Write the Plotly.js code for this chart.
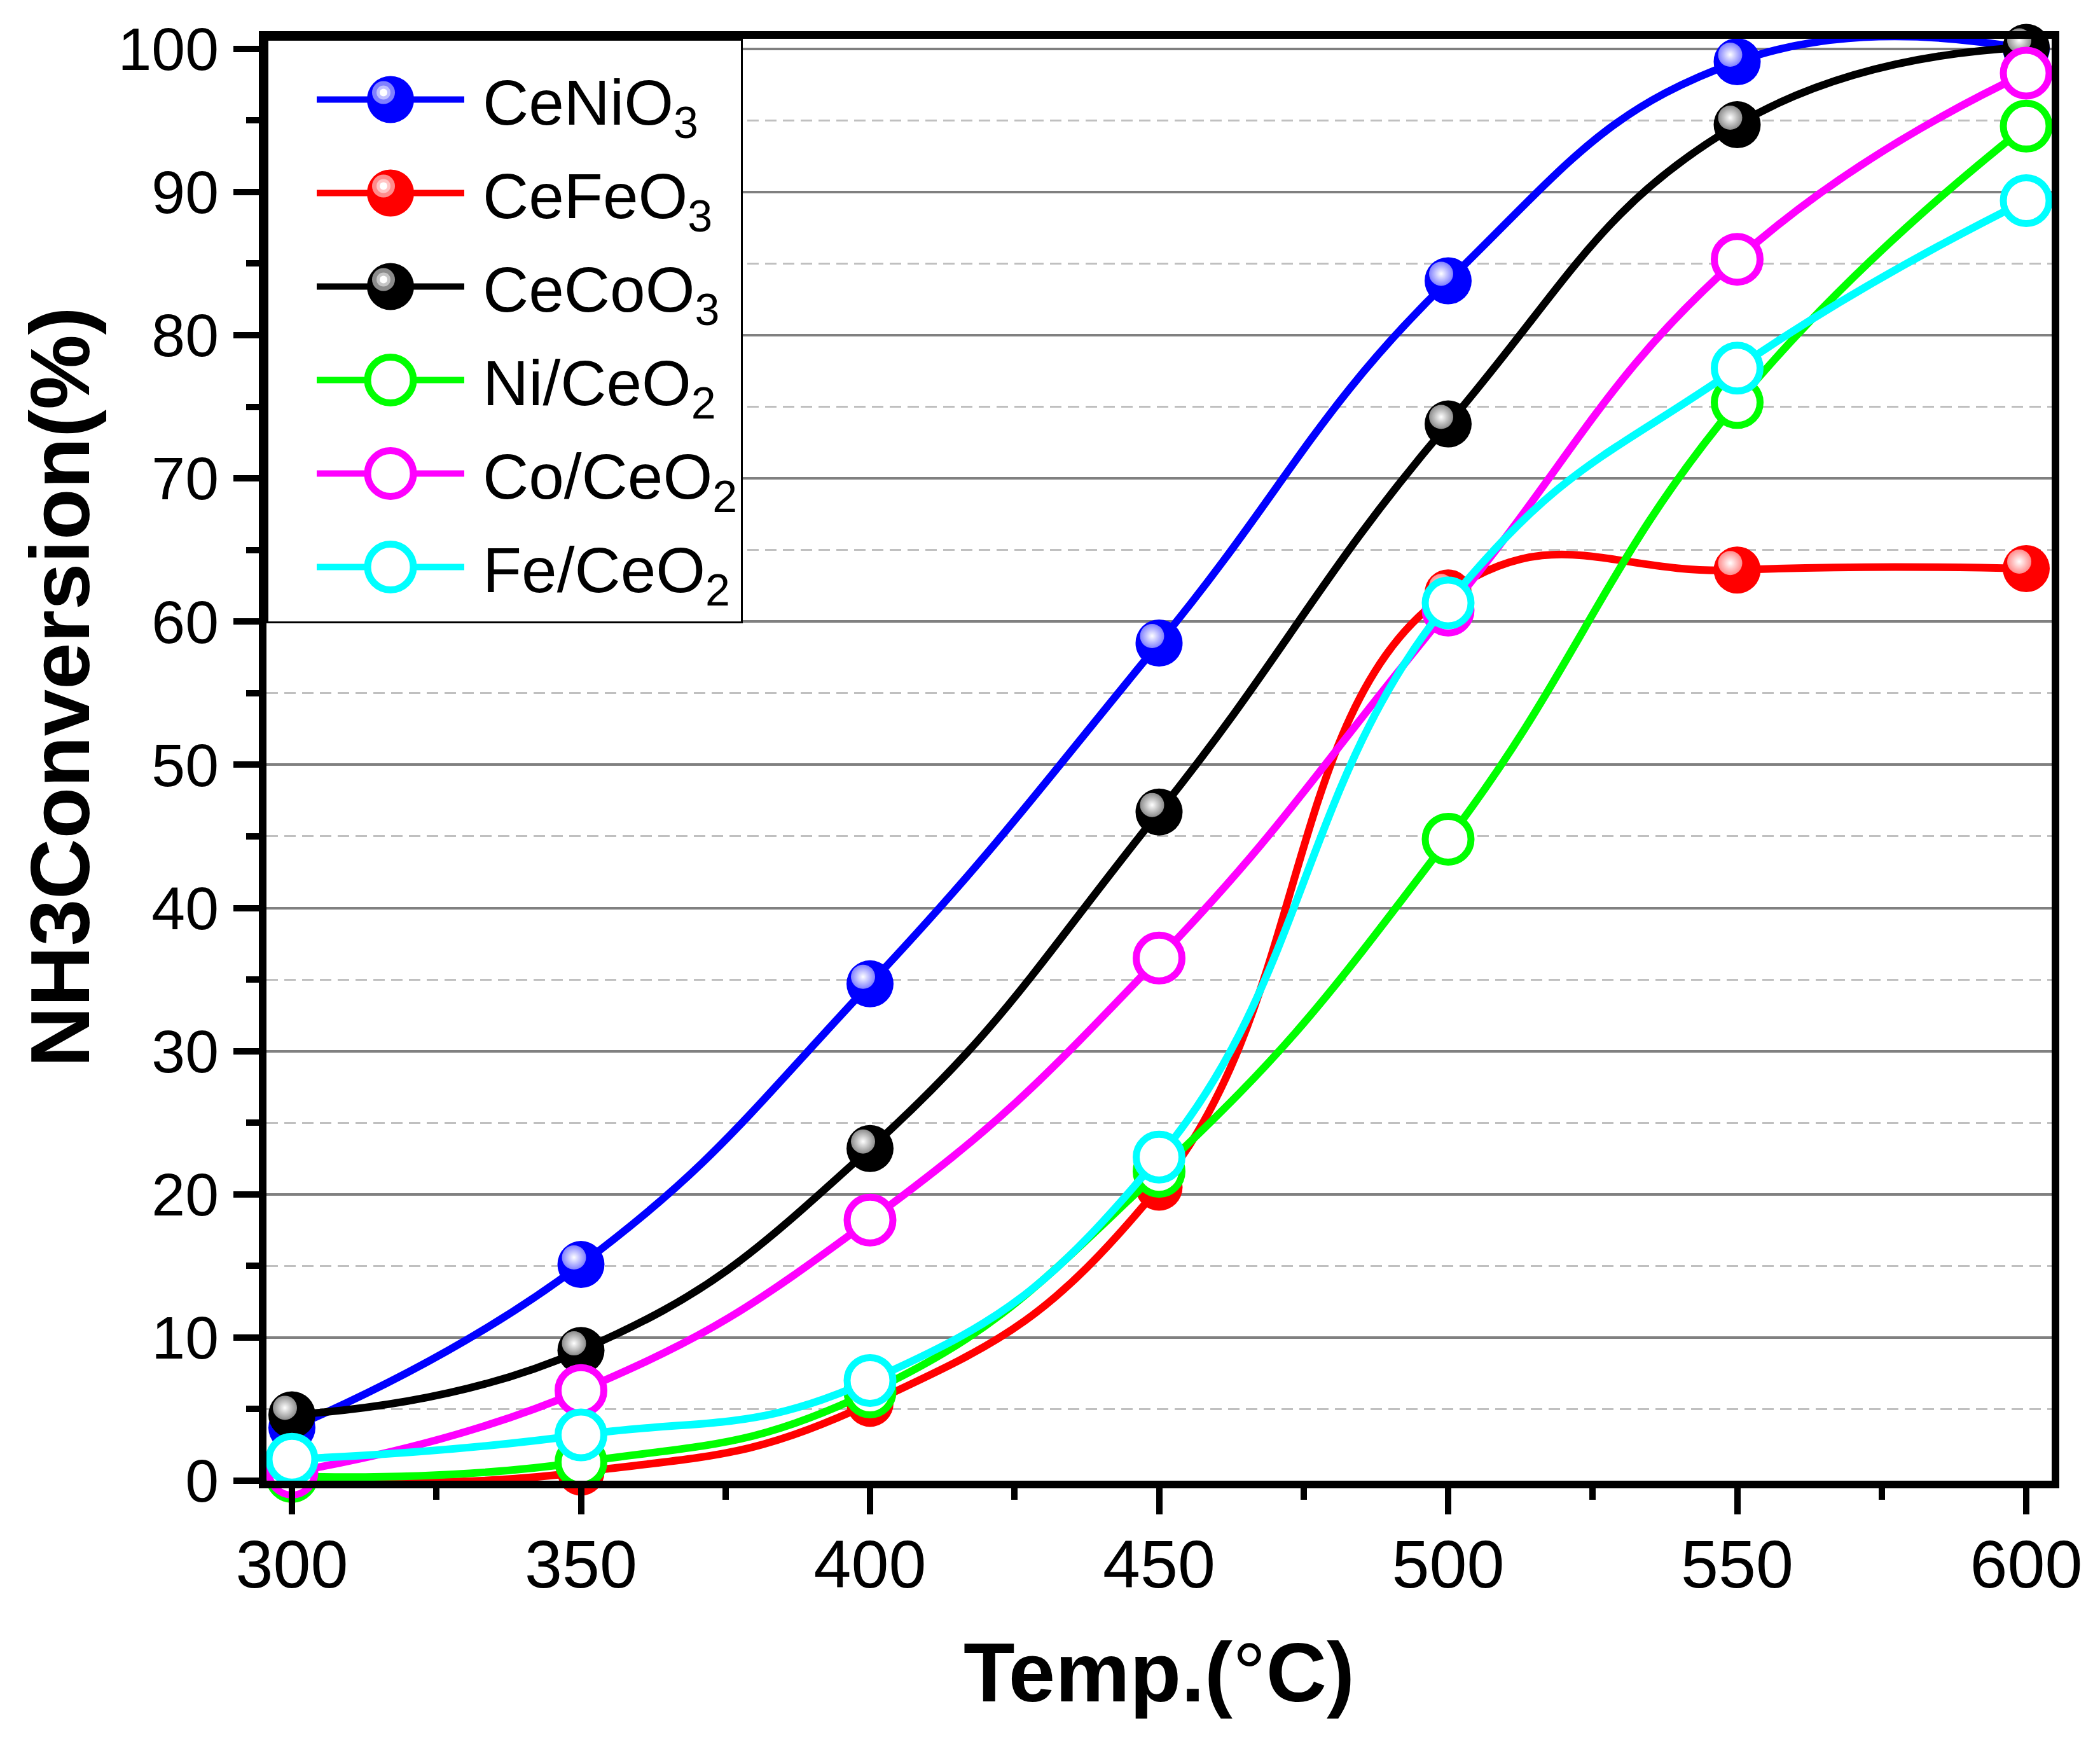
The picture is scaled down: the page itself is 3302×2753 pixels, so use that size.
<!DOCTYPE html>
<html>
<head>
<meta charset="utf-8">
<script src="https://cdn.plot.ly/plotly-3.0.1.min.js"></script>
<style>
  html, body { margin: 0; padding: 0; background: #fff; }
  #chart { width: 3302px; height: 2753px; }
</style>
</head>
<body>
<div id="chart"></div>
<script>
// Data
const temps = [300, 350, 400, 450, 500, 550, 600];
const ceNiO3 = [3.7, 15.1, 34.7, 58.5, 83.8, 99.1, 100];
const ceFeO3 = [0.1, 0.6, 5.4, 20.5, 62.0, 63.6, 63.7];
const ceCoO3 = [4.6, 9.1, 23.2, 46.7, 73.8, 94.7, 100.1];
const niCeO2 = [0.3, 1.3, 6.2, 21.6, 44.8, 75.3, 94.6];
const coCeO2 = [0.6, 6.3, 18.2, 36.5, 60.8, 85.3, 98.3];
const feCeO2 = [1.5, 3.2, 7.0, 22.6, 61.3, 77.7, 89.4];

const seriesNames = ['CeNiO<sub>3</sub>', 'CeFeO<sub>3</sub>', 'CeCoO<sub>3</sub>',
                     'Ni/CeO<sub>2</sub>', 'Co/CeO<sub>2</sub>', 'Fe/CeO<sub>2</sub>'];
const seriesValues = [ceNiO3, ceFeO3, ceCoO3, niCeO2, coCeO2, feCeO2];
const seriesColors = ['#0000ff', '#ff0000', '#000000', '#00ff00', '#ff00ff', '#00ffff'];
const glintColors = ['#8080ff', '#ff8c8c', '#8c8c8c', null, null, null];
const filled = [true, true, true, false, false, false];

const FONT = 'Liberation Sans, Arial, sans-serif';
const SOLID_SIZE = 74, OPEN_SIZE = 72, RING = 11;

// axis ranges; the glint axes are the same ones nudged by ~11px up-left
const xRange = [295.6, 604.4];
const yRange = [0, 100.7];
const dx = 1.21, dy = 0.49;

// each solid series gets its own subplot layer with its glint layer on top,
// so later series still cover earlier ones like in the original
const traces = [];
const layers = []; // [axis number, shifted?]
let axisNo = 1;
seriesValues.forEach((vals, i) => {
  if (filled[i]) {
    const main = axisNo++;
    const glint = axisNo++;
    layers.push([main, false], [glint, true]);
    traces.push(makeSeries(i, main));
    traces.push({
      x: temps,
      y: vals,
      xaxis: 'x' + glint,
      yaxis: 'y' + glint,
      type: 'scatter',
      mode: 'markers',
      showlegend: false,
      hoverinfo: 'skip',
      cliponaxis: false,
      marker: {
        size: 38,
        color: glintColors[i],
        gradient: { type: 'radial', color: '#ffffff' },
        line: { width: 0 }
      }
    });
  }
});
const openLayer = axisNo++;
layers.push([openLayer, false]);
seriesValues.forEach((vals, i) => {
  if (!filled[i]) traces.push(makeSeries(i, openLayer));
});

function makeSeries(i, ax) {
  return {
    x: temps,
    y: seriesValues[i],
    xaxis: ax === 1 ? 'x' : 'x' + ax,
    yaxis: ax === 1 ? 'y' : 'y' + ax,
    name: seriesNames[i],
    type: 'scatter',
    mode: 'lines+markers',
    line: { color: seriesColors[i], width: 12, shape: 'spline', smoothing: 1.3 },
    marker: {
      symbol: 'circle',
      size: filled[i] ? SOLID_SIZE : OPEN_SIZE,
      color: filled[i] ? seriesColors[i] : '#ffffff',
      line: { color: seriesColors[i], width: filled[i] ? 0 : RING }
    },
    legendgroup: 'g' + i,
    cliponaxis: false
  };
}

const axisBase = {
  showline: true, linecolor: '#000', linewidth: 12, mirror: true,
  ticks: 'outside', tickcolor: '#000', tickwidth: 10,
  zeroline: false
};

const layout = {
  width: 3302,
  height: 2753,
  margin: { l: 419, r: 76, t: 61, b: 425 },
  paper_bgcolor: '#fff',
  plot_bgcolor: '#fff',
  showlegend: true,
  xaxis: Object.assign({}, axisBase, {
    range: xRange,
    tick0: 300, dtick: 50,
    ticklen: 41,
    showgrid: false,
    ticklabelstandoff: -12,
    tickfont: { family: FONT, size: 106, color: '#000' },
    minor: { dtick: 25, ticks: 'outside', ticklen: 18, tickwidth: 10, tickcolor: '#000', showgrid: false },
    title: {
      text: 'Temp.(<span style="font-weight:normal">°</span>C)',
      font: { family: FONT, size: 132, color: '#000', weight: 'bold' },
      standoff: 70
    }
  }),
  yaxis: Object.assign({}, axisBase, {
    range: yRange,
    tick0: 0, dtick: 10,
    ticklen: 40,
    showgrid: true, gridcolor: '#808080', gridwidth: 4,
    ticklabelstandoff: 4,
    tickfont: { family: FONT, size: 95, color: '#000' },
    minor: {
      dtick: 5, ticks: 'outside', ticklen: 20, tickwidth: 10, tickcolor: '#000',
      showgrid: true, gridcolor: '#c0c0c0', gridwidth: 3, griddash: '18px,10px'
    }
  }),
  legend: {
    x: 0, y: 1, xanchor: 'left', yanchor: 'top',
    bgcolor: '#fff', bordercolor: '#000', borderwidth: 3,
    font: { family: FONT, size: 100, color: '#000' },
    itemwidth: 327,
    traceorder: 'grouped',
    tracegroupgap: 14
  },
  annotations: [{
    text: '<b>NH3Conversion(%)</b>',
    xref: 'paper', yref: 'paper',
    x: -0.1158, y: 0.5505,
    xanchor: 'center', yanchor: 'middle',
    textangle: -90,
    showarrow: false,
    font: { family: FONT, size: 132, color: '#000' }
  }]
};

layers.forEach(([n, shifted]) => {
  if (n === 1) return;
  layout['xaxis' + n] = {
    overlaying: 'x', visible: false, fixedrange: true,
    range: shifted ? [xRange[0] + dx, xRange[1] + dx] : xRange
  };
  layout['yaxis' + n] = {
    overlaying: 'y', visible: false, fixedrange: true,
    range: shifted ? [yRange[0] - dy, yRange[1] - dy] : yRange
  };
});

// Legend symbols: Plotly caps them at 16px, so blow them up to match the plot markers
function styleLegend(gd) {
  const NS = 'http://www.w3.org/2000/svg';
  const LEGEND_H = 916, SHIFT = 21;
  gd.querySelectorAll('.legend rect.bg').forEach(r => r.setAttribute('height', LEGEND_H));
  gd.querySelectorAll('clipPath[id^="legend"] rect').forEach(r => r.setAttribute('height', LEGEND_H));
  gd.querySelectorAll('.legend .traces').forEach((item, i) => {
    const m = /translate\(([-\d.]+)[ ,]+([-\d.]+)\)/.exec(item.getAttribute('transform') || '');
    if (m) item.setAttribute('transform', 'translate(' + m[1] + ',' + (parseFloat(m[2]) + SHIFT) + ')');
    const line = item.querySelector('path.js-line');
    if (line) line.setAttribute('d', 'M76,0h232');
    const pt = item.querySelector('path.scatterpts');
    if (!pt) return;
    const k = (filled[i] ? SOLID_SIZE : OPEN_SIZE) / 16;
    pt.setAttribute('transform', 'translate(192,0) scale(' + k + ')');
    pt.style.strokeWidth = (filled[i] ? 0 : RING / k) + 'px';
    if (filled[i]) {
      [[18, glintColors[i]], [11, blend(glintColors[i])], [6, '#ffffff']].forEach(([r, c]) => {
        const circ = document.createElementNS(NS, 'circle');
        circ.setAttribute('cx', 181);
        circ.setAttribute('cy', -11);
        circ.setAttribute('r', r);
        circ.setAttribute('fill', c);
        pt.parentNode.appendChild(circ);
      });
    }
  });
}

function blend(hex) {
  const n = parseInt(hex.slice(1), 16);
  const mix = v => Math.round(v + (255 - v) * 0.5);
  return 'rgb(' + mix(n >> 16) + ',' + mix((n >> 8) & 255) + ',' + mix(n & 255) + ')';
}

Plotly.newPlot('chart', traces, layout, { staticPlot: true }).then(styleLegend);
</script>
</body>
</html>
